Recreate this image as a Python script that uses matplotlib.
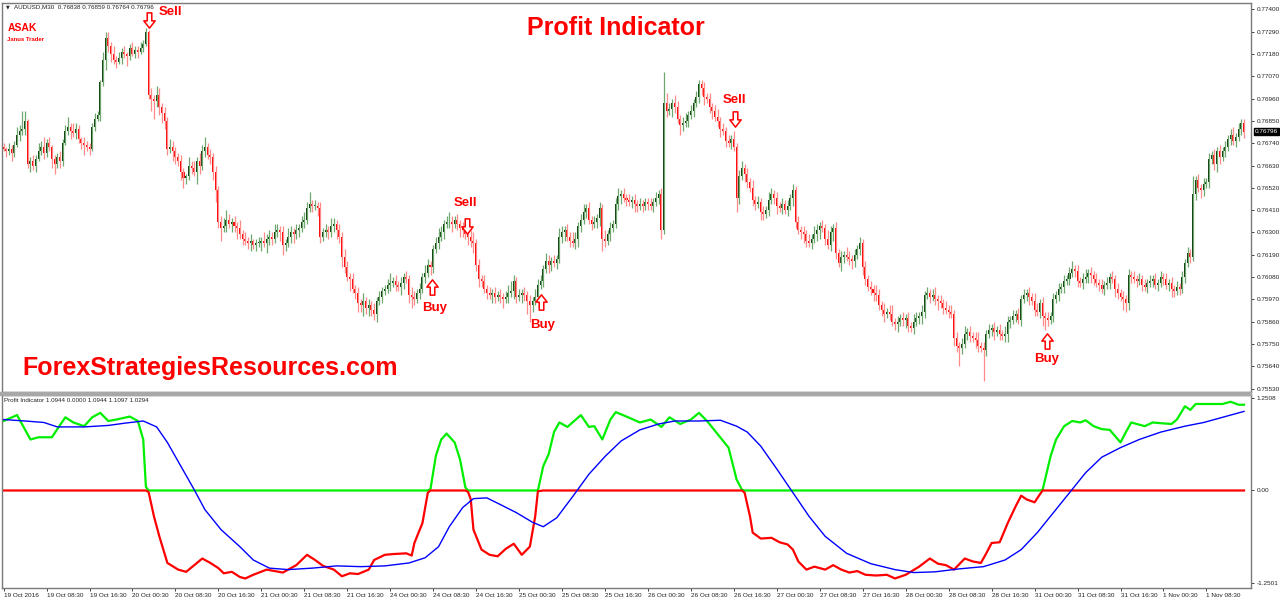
import numpy as np
import matplotlib.pyplot as plt
import matplotlib.transforms as mtransforms
from matplotlib.patches import Rectangle
from matplotlib.path import Path

plt.rcParams['font.family'] = ['Liberation Sans', 'DejaVu Sans']

# AUDUSD M30, prices stored as pips above 0.75000
base = 0.75
first_open = 172

close_pips = [
    # 19 Oct
    171, 170, 171, 169, 173, 178, 180, 181, 185, 164, 165, 163, 166, 170, 172, 169, 174, 172, 166, 164,
    167, 165, 174, 180, 182, 180, 179, 181, 176, 174, 173, 172, 171, 182, 186, 188, 204, 215, 226, 222,
    218, 215, 214, 216, 219, 218, 217, 221, 218, 220, 219, 221, 223, 229, 198, 196, 195, 198, 192, 189,
    185, 171, 172, 170, 167, 165, 160, 157, 158, 163, 162, 160, 165, 163, 170, 172, 168, 167, 160, 151,
    135, 132, 133, 136, 134, 135, 133, 132, 129, 127, 126, 125, 126,
    # bars 93-185
    124, 125, 125, 126, 125, 127, 128, 127, 130, 131, 130, 124, 125, 128, 130, 129, 131, 132, 135, 136,
    142, 144, 143, 143, 142, 128, 130, 131, 130, 133, 134, 131, 128, 118, 113, 108, 107, 102, 100, 95,
    94, 96, 93, 94, 92, 90, 96, 98, 101, 102, 104, 105, 106, 104, 103, 105, 108, 107, 99, 98,
    97, 100, 102, 108, 110, 114, 113, 122, 125, 128, 130, 134, 135, 135, 134, 136, 134, 132, 131, 129,
    128, 126, 125, 114, 107, 106, 102, 100, 99, 100, 98, 99, 98,
    # bars 186-278
    97, 98, 100, 101, 106, 98, 99, 100, 99, 96, 94, 96, 98, 104, 106, 112, 116, 114, 116, 115,
    117, 128, 130, 131, 128, 126, 125, 127, 133, 136, 140, 142, 136, 134, 135, 137, 142, 127, 126, 129,
    132, 134, 144, 148, 149, 147, 146, 145, 146, 144, 143, 144, 143, 145, 144, 143, 145, 147, 149, 131,
    194, 190, 191, 194, 192, 186, 183, 184, 185, 188, 190, 194, 197, 203, 201, 197, 196, 192, 190, 187,
    185, 181, 180, 175, 174, 176, 172, 147, 158, 162, 159, 155, 152,
    # bars 279-371
    146, 144, 145, 140, 139, 141, 146, 149, 147, 143, 142, 144, 141, 143, 147, 151, 135, 131, 130, 129,
    126, 125, 127, 129, 131, 133, 132, 127, 124, 130, 132, 120, 115, 118, 119, 118, 117, 116, 119, 122,
    125, 113, 107, 103, 102, 100, 99, 94, 92, 90, 91, 90, 86, 85, 86, 88, 87, 88, 84, 83,
    86, 88, 89, 91, 99, 100, 98, 99, 97, 96, 95, 93, 92, 91, 90, 78, 74, 73, 75, 80,
    81, 79, 78, 77, 74, 73, 72, 80, 82, 83, 81, 82, 80,
    # bars 372-462
    79, 80, 86, 87, 89, 90, 87, 97, 99, 100, 98, 96, 92, 91, 95, 89, 88, 87, 89, 97,
    99, 102, 103, 106, 107, 110, 112, 111, 106, 105, 107, 108, 110, 109, 107, 105, 104, 102, 104, 105,
    108, 107, 102, 100, 98, 97, 95, 109, 108, 107, 106, 107, 104, 103, 105, 106, 107, 104, 105, 108,
    107, 104, 105, 102, 101, 103, 102, 108, 115, 120, 118, 149, 156, 152, 151, 154, 155, 166, 168, 164,
    170, 167, 170, 172, 176, 178, 175, 177, 181, 183.8, 179.6,
]

hi_wick = [
    2, 1, 3, 2, 2, 4, 3, 9, 5, 1, 2, 3, 2, 4, 3, 5, 2, 3, 1, 2,
    2, 3, 2, 3, 5, 2, 4, 3, 2, 1, 3, 2, 2, 2, 3, 2, 1, 4, 3, 3,
    2, 4, 2, 3, 2, 3, 1, 2, 3, 2, 2, 3, 2, 2, 1, 3, 2, 4, 3, 2,
    3, 2, 4, 3, 2, 2, 3, 2, 1, 4, 2, 3, 2, 4, 3, 5, 2, 3, 2, 3,
    2, 3, 4, 5, 3, 2, 3, 2, 4, 2, 3, 2, 3, 1, 2, 3, 2, 4, 2, 3,
    2, 4, 3, 2, 3, 2, 4, 3, 2, 3, 2, 3, 4, 3, 6, 2, 3, 2, 3, 2,
    3, 2, 4, 3, 2, 3, 2, 4, 3, 2, 3, 2, 3, 2, 4, 2, 3, 2, 3, 2,
    3, 2, 2, 3, 5, 2, 3, 2, 3, 2, 3, 2, 4, 3, 2, 3, 2, 4, 3, 2,
    2, 3, 4, 3, 2, 3, 5, 3, 2, 3, 2, 3, 4, 2, 3, 4, 2, 3, 2, 3,
    2, 3, 2, 3, 2, 3, 2, 3, 4, 5, 3, 2, 3, 2, 3, 2, 3, 2, 4, 3,
    3, 2, 4, 3, 2, 3, 2, 4, 3, 2, 3, 2, 4, 3, 2, 3, 4, 2, 3, 2,
    3, 2, 3, 2, 4, 2, 3, 2, 3, 4, 2, 3, 2, 3, 2, 3, 2, 3, 2, 2,
    2, 3, 2, 3, 2, 3, 15, 5, 3, 2, 4, 3, 2, 3, 4, 2, 3, 2, 3, 2,
    2, 3, 2, 3, 2, 3, 4, 2, 3, 2, 3, 2, 4, 2, 3, 3, 2, 3, 2, 4,
    2, 3, 2, 3, 2, 4, 3, 2, 3, 2, 3, 2, 3, 2, 3, 2, 3, 2, 3, 2,
    3, 2, 4, 3, 2, 3, 2, 4, 3, 2, 3, 2, 3, 2, 4, 3, 2, 3, 2, 3,
    2, 3, 2, 3, 2, 4, 3, 2, 3, 2, 3, 4, 2, 3, 2, 3, 2, 3, 2, 4,
    3, 2, 3, 2, 3, 2, 3, 4, 2, 3, 2, 3, 2, 3, 2, 3, 2, 3, 4, 2,
    3, 2, 3, 4, 2, 3, 2, 3, 2, 3, 2, 3, 2, 4, 3, 2, 3, 2, 3, 2,
    3, 2, 3, 2, 4, 3, 2, 3, 2, 3, 2, 3, 2, 3, 2, 3, 2, 3, 4, 2,
    3, 2, 3, 4, 2, 3, 2, 3, 2, 3, 2, 3, 2, 3, 2, 3, 2, 3, 2, 3,
    2, 3, 2, 3, 2, 3, 2, 3, 2, 3, 2, 3, 2, 3, 2, 3, 2, 3, 2, 3,
    2, 3, 2, 9, 2, 3, 2, 3, 2, 3, 2, 3, 2, 3, 2, 3, 2, 3, 4, 2,
    3, 2, 2.1,
]

lo_wick = [
    1, 3, 2, 4, 2, 1, 3, 2, 3, 2, 4, 2, 3, 1, 2, 3, 2, 2, 4, 5,
    2, 3, 2, 1, 2, 4, 2, 3, 2, 3, 5, 2, 3, 1, 2, 1, 3, 2, 5, 3,
    4, 2, 3, 1, 3, 2, 5, 2, 1, 2, 3, 1, 2, 1, 2, 6, 9, 3, 4, 5,
    4, 3, 2, 5, 3, 2, 4, 5, 3, 2, 3, 2, 6, 4, 2, 3, 2, 3, 4, 6,
    3, 6, 2, 3, 2, 4, 3, 5, 2, 3, 2, 3, 4, 2, 3, 2, 4, 2, 5, 3,
    3, 2, 2, 4, 5, 3, 2, 3, 4, 2, 3, 2, 3, 2, 2, 3, 2, 4, 3, 2,
    2, 3, 2, 3, 4, 3, 5, 3, 2, 6, 2, 3, 4, 3, 5, 3, 4, 3, 3, 4,
    2, 3, 2, 2, 3, 2, 3, 2, 4, 3, 2, 4, 5, 3, 2, 3, 2, 3, 2, 4,
    3, 2, 3, 2, 3, 2, 3, 4, 2, 3, 4, 3, 2, 4, 3, 5, 3, 4, 3, 2,
    3, 2, 4, 3, 2, 3, 4, 2, 3, 2, 4, 3, 2, 4, 3, 6, 8, 3, 2, 3,
    2, 3, 2, 4, 3, 2, 3, 2, 3, 4, 2, 3, 2, 3, 4, 3, 2, 3, 2, 3,
    2, 3, 4, 6, 3, 2, 3, 2, 2, 3, 4, 2, 3, 2, 3, 4, 3, 2, 3, 2,
    3, 2, 3, 2, 3, 4, 2, 3, 2, 4, 3, 2, 5, 3, 2, 3, 2, 3, 2, 3,
    3, 4, 2, 3, 4, 2, 3, 4, 2, 3, 2, 3, 2, 7, 3, 2, 4, 3, 2, 3,
    3, 2, 4, 3, 2, 3, 2, 3, 4, 2, 3, 2, 3, 2, 4, 3, 2, 3, 4, 3,
    2, 3, 2, 3, 4, 2, 3, 2, 3, 4, 3, 2, 4, 3, 2, 3, 4, 3, 2, 3,
    4, 3, 2, 3, 4, 3, 2, 3, 4, 2, 3, 2, 3, 4, 2, 3, 4, 3, 2, 3,
    2, 3, 4, 3, 2, 3, 2, 3, 4, 2, 3, 2, 3, 2, 4, 3, 9, 3, 2, 3,
    3, 2, 4, 3, 2, 15, 3, 2, 3, 4, 2, 3, 2, 3, 4, 3, 2, 3, 2, 3,
    2, 3, 4, 2, 3, 2, 3, 5, 6, 3, 2, 3, 2, 3, 2, 3, 2, 3, 2, 3,
    3, 2, 3, 2, 3, 4, 3, 2, 3, 2, 3, 2, 3, 2, 4, 3, 2, 5, 4, 3,
    3, 2, 3, 2, 3, 2, 3, 2, 3, 2, 3, 2, 3, 2, 3, 4, 3, 2, 3, 2,
    3, 2, 3, 2, 3, 2, 4, 3, 2, 3, 2, 3, 4, 3, 2, 3, 2, 3, 2, 3,
    2, 3, 3.2,
]

# Profit Indicator: one oscillator (green above zero, red below) and a blue signal line
osc_bar = [0, 5, 10, 13, 18, 20, 23, 26, 30, 33, 36, 39, 42, 47, 50, 52, 53, 54, 56, 58,
           61, 65, 68, 71, 74, 77, 80, 82, 85, 88, 90, 93, 98, 104, 109, 113, 116, 119, 123, 126,
           129, 132, 136, 138, 142, 145, 150, 152, 153, 156, 158, 159, 161, 163, 165, 168, 170, 172, 173, 174,
           175, 178, 181, 184, 187, 190, 193, 196, 198, 199, 201, 203, 205, 207, 210, 215, 218, 220, 223, 226,
           228, 232, 237, 241, 245, 248, 252, 256, 259, 262, 266, 270, 273, 275, 276, 278, 279, 282, 286, 289,
           292, 294, 296, 299, 302, 306, 309, 312, 315, 318, 321, 325, 329, 332, 336, 341, 345, 348, 351, 354,
           358, 361, 364, 366, 368, 371, 374, 377, 379, 381, 384, 386, 387, 390, 392, 395, 398, 401, 403, 406,
           409, 412, 416, 418, 420, 422, 425, 428, 431, 435, 437, 440, 442, 444, 449, 454, 457, 460, 462]
osc_val = [0.94, 1.02, 0.69, 0.72, 0.72, 0.83, 0.99, 0.92, 0.87, 0.99, 1.05, 0.94, 0.96, 1.0, 0.94, 0.69, 0.05, -0.02, -0.35, -0.62,
           -0.98, -1.07, -1.10, -1.01, -0.92, -0.98, -1.05, -1.12, -1.10, -1.17, -1.19, -1.14, -1.07, -1.11, -1.01, -0.87, -0.94, -1.02, -1.07, -1.16,
           -1.12, -1.13, -1.07, -0.94, -0.87, -0.86, -0.85, -0.88, -0.71, -0.44, -0.03, 0.02, 0.47, 0.69, 0.77, 0.65, 0.42, 0.04, -0.02, -0.12,
           -0.53, -0.80, -0.87, -0.89, -0.79, -0.72, -0.87, -0.76, -0.35, -0.01, 0.33, 0.49, 0.79, 0.92, 0.86, 1.02, 0.86, 0.87, 0.69, 0.96,
           1.06, 1.0, 0.92, 0.96, 0.86, 0.99, 0.90, 0.96, 1.05, 0.94, 0.76, 0.58, 0.15, 0.01, -0.03, -0.35, -0.57, -0.65, -0.64, -0.70,
           -0.73, -0.80, -0.96, -1.07, -1.03, -1.07, -1.01, -1.07, -1.11, -1.09, -1.14, -1.15, -1.14, -1.19, -1.14, -1.03, -0.92, -0.99, -1.01, -1.07,
           -0.92, -0.96, -0.98, -0.85, -0.71, -0.70, -0.44, -0.21, -0.07, -0.12, -0.16, -0.05, 0.01, 0.47, 0.69, 0.87, 0.94, 0.92, 0.95, 0.87,
           0.83, 0.82, 0.65, 0.79, 0.92, 0.90, 0.87, 0.92, 0.91, 0.90, 0.96, 1.14, 1.09, 1.17, 1.17, 1.17, 1.20, 1.16, 1.16]

blue_bar = [0, 8, 15, 20, 30, 39, 45, 52, 57, 61, 66, 71, 75, 81, 88, 93, 99, 106, 115, 124,
            133, 142, 151, 157, 162, 166, 171, 175, 180, 185, 191, 197, 201, 206, 212, 218, 224, 230, 237, 244,
            250, 259, 267, 273, 277, 282, 288, 294, 300, 306, 314, 323, 332, 339, 347, 356, 365, 373, 379, 385,
            391, 397, 403, 409, 416, 423, 431, 440, 447, 455, 462]
blue_val = [0.96, 0.94, 0.92, 0.86, 0.86, 0.88, 0.91, 0.94, 0.86, 0.65, 0.33, 0.01, -0.26, -0.53, -0.76, -0.94, -1.05, -1.07, -1.05, -1.02,
            -1.03, -1.02, -0.98, -0.91, -0.76, -0.49, -0.23, -0.11, -0.10, -0.19, -0.30, -0.43, -0.49, -0.37, -0.08, 0.22, 0.46, 0.67, 0.82, 0.90,
            0.94, 0.94, 0.95, 0.87, 0.79, 0.60, 0.29, -0.03, -0.35, -0.62, -0.85, -0.99, -1.07, -1.11, -1.10, -1.06, -1.03, -0.94, -0.80, -0.57,
            -0.30, -0.03, 0.24, 0.45, 0.58, 0.69, 0.79, 0.87, 0.92, 1.00, 1.07]

time_labels = ['19 Oct 2016', '19 Oct 08:30', '19 Oct 16:30', '20 Oct 00:30', '20 Oct 08:30', '20 Oct 16:30',
               '21 Oct 00:30', '21 Oct 08:30', '21 Oct 16:30', '24 Oct 00:30', '24 Oct 08:30', '24 Oct 16:30',
               '25 Oct 00:30', '25 Oct 08:30', '25 Oct 16:30', '26 Oct 00:30', '26 Oct 08:30', '26 Oct 16:30',
               '27 Oct 00:30', '27 Oct 08:30', '27 Oct 16:30', '28 Oct 00:30', '28 Oct 08:30', '28 Oct 16:30',
               '31 Oct 00:30', '31 Oct 08:30', '31 Oct 16:30', '1 Nov 00:30', '1 Nov 08:30']
bars_per_label = 16

price_labels = ['0.77400', '0.77290', '0.77180', '0.77070', '0.76960', '0.76850', '0.76740', '0.76630', '0.76520',
                '0.76410', '0.76300', '0.76190', '0.76080', '0.75970', '0.75860', '0.75750', '0.75640', '0.75530']

# Buy / Sell signals: bar, arrow level and text level (pips above 0.75)
sig_text = ['Sell', 'Buy', 'Sell', 'Buy', 'Sell', 'Buy']
sig_bar = [54.2, 159.4, 172.6, 200.2, 272.3, 388.6]
sig_arrow = [234.8, 102.9, 133.4, 95.5, 186.0, 76.7]
sig_text_bar = [62.0, 160.5, 172.0, 200.6, 272.4, 388.6]
sig_text_lvl = [238.6, 93.0, 144.5, 84.4, 195.3, 67.6]

n = min(len(close_pips), len(hi_wick), len(lo_wick))
x = np.arange(n)
c = base + np.array(close_pips[:n]) / 10000
o = np.r_[base + first_open / 10000, c[:-1]]
hi = np.maximum(o, c) + np.array(hi_wick[:n]) / 10000
lo = np.minimum(o, c) - np.array(lo_wick[:n]) / 10000
up = c >= o
body = np.maximum(np.abs(c - o), 0.00003)

fig = plt.figure(figsize=(12.8, 6.02), dpi=100)
ax = fig.add_axes([0.00156, 0.34884, 0.97578, 0.64618])
ax2 = fig.add_axes([0.00156, 0.02326, 0.97578, 0.32059])

# candles
ax.vlines(x[up], lo[up], hi[up], color='#6fa86f', lw=0.9)
ax.vlines(x[~up], lo[~up], hi[~up], color='#ff8a8a', lw=0.9)
ax.bar(x[up], body[up], bottom=np.minimum(o, c)[up], width=0.75, color='#0c3a0c', lw=0)
ax.bar(x[~up], body[~up], bottom=np.minimum(o, c)[~up], width=0.75, color='#ff0000', lw=0)

ax.set_xlim(-0.6, 464.6)
ax.set_ylim(0.755134, 0.774315)
ax.set_xticks([])
ax.yaxis.tick_right()
ax.set_yticks([float(p) for p in price_labels])
ax.set_yticklabels(price_labels)
ax.tick_params(axis='y', labelsize=4.6, length=2, pad=2, colors='#222222', width=0.6)

for sp in ax.spines.values():
    sp.set_color('#7a7a7a')
    sp.set_linewidth(1)

ax.text(0.4916, 0.936, 'Profit Indicator', transform=ax.transAxes, ha='center', va='center',
        fontsize=18, fontweight='bold', color='#ff0000')
ax.text(0.016, 0.0437, 'ForexStrategiesResources.com', transform=ax.transAxes, ha='left', va='baseline',
        fontsize=18, fontweight='bold', color='#ff0000')
ax.text(0.0028, 0.989, '\u25bc', transform=ax.transAxes, fontsize=3.5, va='center', color='#222222',
        family='DejaVu Sans')
ax.text(0.0095, 0.989, 'AUDUSD,M30  %.5f %.5f %.5f %.5f' % (o[-1], hi[-1], lo[-1], c[-1]),
        transform=ax.transAxes, fontsize=4.5, va='center', color='#222222')
ax.text(0.0045, 0.936, 'ASAK', transform=ax.transAxes, fontsize=7.5, fontweight='bold', va='center',
        color='#ff0000')
ax.text(0.0040, 0.905, 'Janus Trader', transform=ax.transAxes, fontsize=4.3, fontweight='bold',
        va='center', color='#ff0000')

# hollow arrow markers
down_arrow = Path([(-0.3, 1), (0.3, 1), (0.3, -0.05), (0.74, -0.05), (0, -1), (-0.74, -0.05),
                   (-0.3, -0.05), (-0.3, 1)], closed=True)
up_arrow = Path([(-0.3, -1), (0.3, -1), (0.3, 0.05), (0.74, 0.05), (0, 1), (-0.74, 0.05),
                 (-0.3, 0.05), (-0.3, -1)], closed=True)
for t, b, a, tb, tl in zip(sig_text, sig_bar, sig_arrow, sig_text_bar, sig_text_lvl):
    ax.plot([b], [base + a / 10000], marker=down_arrow if t == 'Sell' else up_arrow, ms=11,
            mfc='white', mec='#ff0000', mew=1.1, ls='none', zorder=5)
    ax.text(tb, base + tl / 10000, t, ha='center', va='center', fontsize=9.5, fontweight='bold',
            color='#ff0000', zorder=5)

# current price box
trans = mtransforms.blended_transform_factory(ax.transAxes, ax.transData)
ax.text(1.003, c[-1], '%.5f' % c[-1], transform=trans, fontsize=4.6, color='white', va='center', ha='left',
        bbox=dict(boxstyle='square,pad=0.15', fc='black', ec='black'))

# indicator
osc = np.array(osc_val)
ax2.plot(osc_bar, np.maximum(osc, 0), color='#00ee00', lw=1.6, solid_joinstyle='round')
ax2.plot(osc_bar, np.minimum(osc, 0), color='#ff0000', lw=1.6, solid_joinstyle='round')
ax2.plot(blue_bar, blue_val, color='#0000ff', lw=1.0)

ax2.set_xlim(-0.6, 464.6)
ax2.set_ylim(-1.3188, 1.2916)
ax2.yaxis.tick_right()
ax2.set_yticks([1.2508, 0.0, -1.2501])
ax2.set_yticklabels(['1.2508', '0.00', '-1.2501'])
ax2.tick_params(axis='y', labelsize=4.6, length=2, pad=2, colors='#222222', width=0.6)
ax2.set_xticks(np.arange(len(time_labels)) * bars_per_label)
ax2.set_xticklabels(time_labels, ha='left')
ax2.tick_params(axis='x', labelsize=4.6, length=2, pad=1.5, colors='#222222', width=0.6)
for sp in ax2.spines.values():
    sp.set_color('#7a7a7a')
    sp.set_linewidth(1)
ax2.text(0.002, 0.985, 'Profit Indicator 1.0944 0.0000 1.0944 1.1097 1.0294', transform=ax2.transAxes,
         fontsize=4.5, va='top', color='#222222')

# separator bar between the two windows
fig.patches.append(Rectangle((0.0, 0.34385), 0.9773, 0.005, transform=fig.transFigure,
                             color='#a8a8a8', zorder=0))

fig.savefig('out.png', dpi=100, facecolor='white')
